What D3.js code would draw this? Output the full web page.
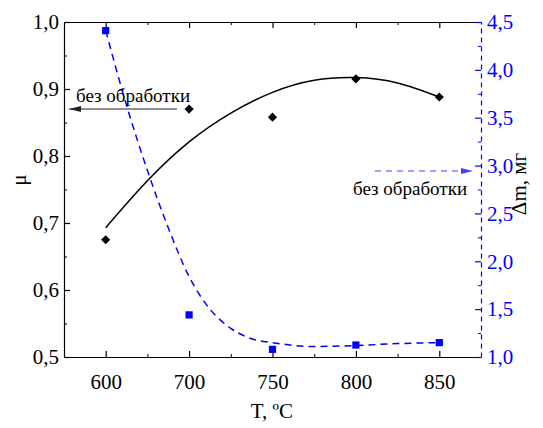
<!DOCTYPE html>
<html>
<head>
<meta charset="utf-8">
<script src="https://cdn.jsdelivr.net/npm/d3@7"></script>
<style>
  body { margin: 0; background: #fff; }
</style>
</head>
<body>
<svg id="chart" width="543" height="428"></svg>
<script>
// categories on the x axis (equally spaced)
const temps = ["600", "700", "750", "800", "850"];
// friction coefficient (left axis)
const mu = [0.675, 0.870, 0.858, 0.915, 0.888];
// mass loss, mg (right axis)
const dm = [4.41, 1.44, 1.08, 1.125, 1.15];
// fitted curves, positions in category units
const muFitPos = [0, 0.5, 1, 1.5, 2, 2.5, 3, 3.5, 4];
const muFitVal = [0.693, 0.763, 0.821, 0.864, 0.895, 0.913, 0.917, 0.909, 0.888];
const dmFitPos = [0, 0.25, 0.5, 0.75, 1, 1.25, 1.5, 1.75, 2, 2.5, 3, 3.5, 4];
const dmFitVal = [4.41, 3.63, 2.95, 2.35, 1.84, 1.50, 1.30, 1.19, 1.15, 1.11, 1.12, 1.14, 1.15];

const serif = "'Liberation Serif', 'DejaVu Serif', 'Times New Roman', serif";
const blue = "#0000ff";
const svg = d3.select("#chart");
const pLeft = 64, pRight = 481, pTop = 22, pBottom = 357;

const x = d3.scaleLinear().domain([-0.5, 4.5]).range([pLeft, pRight]);
const yL = d3.scaleLinear().domain([0.5, 1.0]).range([pBottom, pTop]);
const yR = d3.scaleLinear().domain([1.0, 4.5]).range([pBottom, pTop]);

const comma = (f) => (v) => d3.format(f)(v).replace(".", ",");

// bottom axis
svg.append("g").attr("transform", `translate(0,${pBottom})`)
  .call(d3.axisBottom(x).tickValues([0.5, 1.5, 2.5, 3.5]).tickSize(-3).tickFormat(""))
  .call((g) => g.select(".domain").remove());
svg.append("g").attr("transform", `translate(0,${pBottom})`)
  .call(d3.axisBottom(x).tickValues([0, 1, 2, 3, 4]).tickSize(-6).tickSizeOuter(0)
    .tickPadding(17).tickFormat((d) => temps[d]))
  .attr("font-family", serif)
  .call((g) => g.selectAll("text").style("font-size", "21px").attr("fill", "#000"))
  .call((g) => g.selectAll("line,path").attr("stroke", "#000").attr("stroke-width", 1.2));

// top axis (mirror)
svg.append("g").attr("transform", `translate(0,${pTop})`)
  .call(d3.axisTop(x).tickValues([0.5, 1.5, 2.5, 3.5]).tickSize(-3).tickFormat(""))
  .call((g) => g.select(".domain").remove());
svg.append("g").attr("transform", `translate(0,${pTop})`)
  .call(d3.axisTop(x).tickValues([0, 1, 2, 3, 4]).tickSize(-6).tickSizeOuter(0).tickFormat(""))
  .call((g) => g.selectAll("line,path").attr("stroke", "#000").attr("stroke-width", 1.2));

// left axis
svg.append("g").attr("transform", `translate(${pLeft},0)`)
  .call(d3.axisLeft(yL).tickValues([0.55, 0.65, 0.75, 0.85, 0.95]).tickSize(-3).tickFormat(""))
  .call((g) => g.select(".domain").remove());
svg.append("g").attr("transform", `translate(${pLeft},0)`)
  .call(d3.axisLeft(yL).tickValues(d3.range(0.5, 1.01, 0.1)).tickSize(-6).tickSizeOuter(0)
    .tickPadding(5).tickFormat(comma(".1f")))
  .attr("font-family", serif)
  .call((g) => g.selectAll("text").style("font-size", "21px").attr("fill", "#000"))
  .call((g) => g.selectAll("line,path").attr("stroke", "#000").attr("stroke-width", 1.2));

// right axis (blue, dashed)
svg.append("g").attr("transform", `translate(${pRight},0)`)
  .call(d3.axisRight(yR).tickValues(d3.range(1.25, 4.5, 0.5)).tickSize(-3).tickFormat(""))
  .call((g) => g.select(".domain").remove())
  .call((g) => g.selectAll("line").attr("stroke", blue));
svg.append("g").attr("transform", `translate(${pRight},0)`)
  .call(d3.axisRight(yR).tickValues(d3.range(1.0, 4.51, 0.5)).tickSize(-6).tickSizeOuter(0)
    .tickPadding(6).tickFormat(comma(".1f")))
  .attr("font-family", serif)
  .call((g) => g.selectAll("text").style("font-size", "21px").attr("fill", blue))
  .call((g) => g.selectAll("line").attr("stroke", blue).attr("stroke-width", 1.2))
  .call((g) => g.select(".domain").attr("stroke", blue).attr("stroke-width", 1.2)
    .attr("stroke-dasharray", "5,4"));

// fitted curves
const muLine = d3.line().x((d) => x(d[0])).y((d) => yL(d[1])).curve(d3.curveNatural);
svg.append("path")
  .attr("d", muLine(d3.zip(muFitPos, muFitVal)))
  .attr("fill", "none").attr("stroke", "#000").attr("stroke-width", 1.5);

const dmLine = d3.line().x((d) => x(d[0])).y((d) => yR(d[1])).curve(d3.curveMonotoneX);
svg.append("path")
  .attr("d", dmLine(d3.zip(dmFitPos, dmFitVal)))
  .attr("fill", "none").attr("stroke", blue).attr("stroke-width", 1.5)
  .attr("stroke-dasharray", "7,5");

// markers
svg.append("g").selectAll("path")
  .data(mu)
  .join("path")
  .attr("d", d3.symbol(d3.symbolSquare, 42))
  .attr("transform", (d, i) => `translate(${x(i)},${yL(d)}) rotate(45)`)
  .attr("fill", "#000");

svg.append("g").selectAll("path")
  .data(dm)
  .join("path")
  .attr("d", d3.symbol(d3.symbolSquare, 52))
  .attr("transform", (d, i) => `translate(${x(i)},${yR(d)})`)
  .attr("fill", blue);

// annotations
const defs = svg.append("defs");
defs.append("marker").attr("id", "arrBlack").attr("viewBox", "0 0 12 6")
  .attr("refX", 12).attr("refY", 3).attr("markerWidth", 12).attr("markerHeight", 6)
  .attr("markerUnits", "userSpaceOnUse").attr("orient", "auto")
  .append("path").attr("d", "M0,0L12,3L0,6Z").attr("fill", "#222");
defs.append("marker").attr("id", "arrBlue").attr("viewBox", "0 0 12 6")
  .attr("refX", 12).attr("refY", 3).attr("markerWidth", 12).attr("markerHeight", 6)
  .attr("markerUnits", "userSpaceOnUse").attr("orient", "auto")
  .append("path").attr("d", "M0,0L12,3L0,6Z").attr("fill", "#4040ff");

svg.append("line")
  .attr("x1", 177).attr("y1", 109).attr("x2", 69).attr("y2", 109)
  .attr("stroke", "#222").attr("stroke-width", 1.2).attr("marker-end", "url(#arrBlack)");
svg.append("text").attr("x", 76).attr("y", 102)
  .attr("font-family", serif).style("font-size", "19px").text("без обработки");

svg.append("line")
  .attr("x1", 375).attr("y1", 171).attr("x2", 473).attr("y2", 171)
  .attr("stroke", "#4040ff").attr("stroke-width", 1.2).attr("stroke-dasharray", "6,5")
  .attr("marker-end", "url(#arrBlue)");
svg.append("text").attr("x", 353).attr("y", 195)
  .attr("font-family", serif).style("font-size", "19px").text("без обработки");

// axis titles
svg.append("text")
  .attr("transform", "translate(26,180) rotate(-90)")
  .attr("font-family", serif)
  .attr("text-anchor", "middle").style("font-size", "21px").text("μ");
svg.append("text")
  .attr("x", 272).attr("y", 418)
  .attr("font-family", serif)
  .attr("text-anchor", "middle").style("font-size", "21px").text("T, ºC");
svg.append("text")
  .attr("transform", "translate(526,184) rotate(-90)")
  .attr("font-family", serif)
  .attr("text-anchor", "middle").style("font-size", "21px").text("Δm, мг");
</script>
</body>
</html>
